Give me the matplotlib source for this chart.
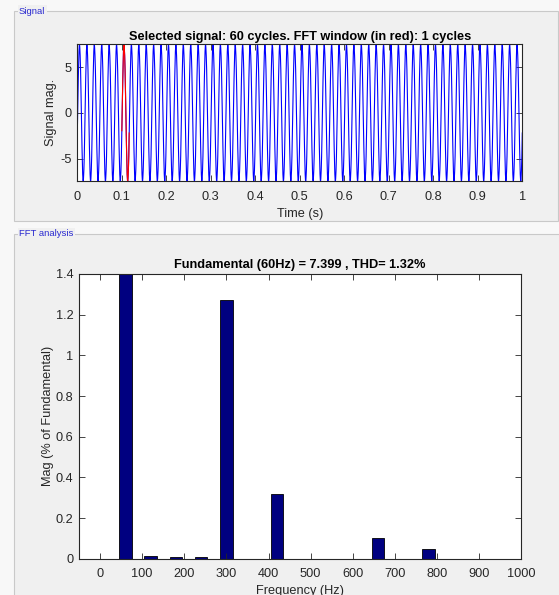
import numpy as np
import matplotlib
matplotlib.use("Agg")
import matplotlib.pyplot as plt
from matplotlib.patches import Rectangle

plt.rcParams['font.family'] = ['Liberation Sans', 'DejaVu Sans']

# ---- data ----
fund_freq = 60.0          # Hz
fund_mag = 7.399          # peak
phase0 = -0.30            # rad, start phase
n_cycles = 60
window_start = 0.1        # s
window_cycles = 1

harm_freqs = [0, 60, 120, 180, 240, 300, 360, 420, 480, 540, 600, 660, 720, 780, 840, 900, 960]
harm_mags = [0.0, 100.0, 0.015, 0.006, 0.007, 1.27, 0.0, 0.32, 0.0, 0.0, 0.0,
             0.10, 0.0, 0.05, 0.0, 0.0, 0.0]   # % of fundamental

sig_title = "Selected signal: 60 cycles. FFT window (in red): 1 cycles"
fft_title = "Fundamental (60Hz) = 7.399 , THD= 1.32%"

# ---- signal built from the harmonic content ----
t = np.linspace(0, n_cycles / fund_freq, 12001)
sig = fund_mag * np.sin(2 * np.pi * fund_freq * t + phase0)
for f, m in zip(harm_freqs, harm_mags):
    if f > fund_freq:
        sig += fund_mag * m / 100 * np.sin(2 * np.pi * f * t)
win = (t >= window_start) & (t <= window_start + window_cycles / fund_freq)

W, H = 559, 595
fig = plt.figure(figsize=(W / 100, H / 100), dpi=100)
fig.patch.set_facecolor('#f8f8f8')

def px_rect(x0, y0, x1, y1):
    return (x0 / W, 1 - y1 / H, (x1 - x0) / W, (y1 - y0) / H)

panel_bg = '#f0f0f0'
for (x0, y0, x1, y1) in [(14, 11, 558, 221), (14, 234, 570, 610)]:
    l, b, w, h = px_rect(x0, y0, x1, y1)
    r = Rectangle((l, b), w, h, transform=fig.transFigure,
                  facecolor=panel_bg, edgecolor='#c9c9c9', lw=0.8)
    r.set_zorder(-10)
    fig.patches.append(r)
for txt, x, y in [("Signal", 19, 11), ("FFT analysis", 19, 234)]:
    tx = fig.text(x / W, 1 - y / H, txt, color='#2a2ad0', fontsize=6.8, va='center', ha='left',
                  bbox=dict(facecolor=panel_bg, edgecolor='none', pad=1.0))
    tx.set_zorder(-5)

label_color = '#262626'
fs = 9.2

def style(ax):
    ax.set_zorder(5)
    ax.set_facecolor('white')
    for s in ax.spines.values():
        s.set_color('#262626')
        s.set_linewidth(0.8)
    ax.tick_params(direction='in', length=4, width=0.6, color='#262626',
                   labelcolor=label_color, labelsize=fs, top=True, right=True, pad=4)

# ---- top axes ----
ax1 = fig.add_axes(px_rect(77.3, 44.3, 522.3, 181))
style(ax1)
ax1.plot(t, sig, color='#0000ff', lw=0.8)
ax1.plot(t[win], sig[win], color='#ff0000', lw=0.8)
ax1.set_xlim(0, 1)
ax1.set_ylim(-7.42, 7.48)
ax1.set_xticks(np.arange(0, 1.01, 0.1))
ax1.set_xticklabels(['0', '0.1', '0.2', '0.3', '0.4', '0.5', '0.6', '0.7', '0.8', '0.9', '1'])
ax1.set_yticks([-5, 0, 5])
ax1.set_yticklabels(['-5', '0', '5'])
ax1.tick_params(axis='x', pad=7)
ax1.set_xlabel('Time (s)', fontsize=fs, color=label_color, labelpad=3.5)
ax1.set_ylabel('Signal mag.', fontsize=fs, color=label_color, labelpad=2.5)
ax1.set_title(sig_title, fontsize=fs, fontweight='bold', color='black', pad=3)

# ---- bottom axes ----
ax2 = fig.add_axes(px_rect(79, 274, 521.3, 558.7))
style(ax2)
ax2.bar(harm_freqs, harm_mags, width=30, color='#000080', edgecolor='black', linewidth=0.6)
ax2.set_xlim(-50, 1000)
ax2.set_ylim(0, 1.4)
ax2.set_xticks(np.arange(0, 1001, 100))
ax2.set_yticks(np.arange(0, 1.41, 0.2))
ax2.set_yticklabels(['0', '0.2', '0.4', '0.6', '0.8', '1', '1.2', '1.4'])
ax2.tick_params(axis='x', pad=7)
ax2.set_xlabel('Frequency (Hz)', fontsize=fs, color=label_color, labelpad=3.5)
ax2.set_ylabel('Mag (% of Fundamental)', fontsize=fs, color=label_color, labelpad=1.5)
ax2.set_title(fft_title, fontsize=fs, fontweight='bold', color='black', pad=4)

fig.savefig('out.png', dpi=100, facecolor=fig.get_facecolor())
